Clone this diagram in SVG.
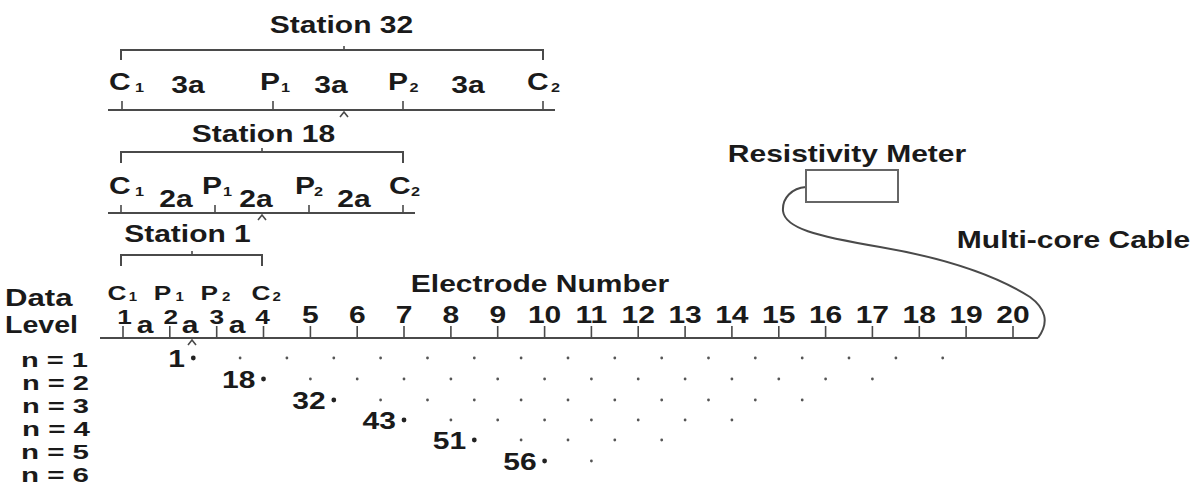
<svg xmlns="http://www.w3.org/2000/svg" width="1201" height="493" viewBox="0 0 1201 493">
<style>
text{font-family:"Liberation Sans",Arial,sans-serif;font-weight:bold;font-size:24px;fill:#1a1a1a}
.m{text-anchor:middle}
.e{text-anchor:end}
.sub{font-size:13px}
.cp{font-size:21px}
.cp .sub{font-size:12px}
.lv{font-size:20.5px}
.dl{font-size:23px}
.ln{stroke:#4a4a4a;stroke-width:2;fill:none}
.tk{stroke:#4a4a4a;stroke-width:1.6;fill:none}
.dot{fill:#555}
.big{fill:#222}
</style>
<rect width="1201" height="493" fill="#fff"/>
<g id="connectors">
<path class="ln" d="M121,60 V50 H543 V60"/><path class="tk" d="M344,46 V50"/>
<path class="ln" d="M108,110 H555"/>
<path class="tk" d="M122,101 V110 M273,101 V110 M403,101 V110 M543,101 V110"/>
<path class="tk" d="M340,117 L344,112 L348,117"/>
<path class="ln" d="M121,163 V152 H403 V163"/><path class="tk" d="M262,148 V152"/>
<path class="ln" d="M108,213 H415"/>
<path class="tk" d="M121,205 V213 M215,205 V213 M309,205 V213 M403,205 V213"/>
<path class="tk" d="M258,220 L262,215 L266,220"/>
<path class="ln" d="M121,266 V255 H262 V266"/><path class="tk" d="M192,251 V255"/>
<path class="ln" d="M100,338 H1038"/>
<path class="tk" d="M123,326V338M169.8,326V338M216.7,326V338M263.5,326V338M310.4,326V338M357.2,326V338M404,326V338M450.9,326V338M497.7,326V338M544.6,326V338M591.4,326V338M638.2,326V338M685.1,326V338M731.9,326V338M778.8,326V338M825.6,326V338M872.4,326V338M919.3,326V338M966.1,326V338M1013,326V338"/>
<path class="tk" d="M188,345 L192,340 L196,345"/>
<path id="cable" class="ln" stroke-width="1.6" d="M806,187 C792,188 782,198 783,211 C785,228 815,236 880,247 C950,259 1000,278 1030,297 C1045,308 1050,322 1038,338"/>
</g>
<g id="meter"><rect x="806" y="170" width="92" height="32" fill="#fff" stroke="#666" stroke-width="2"/></g>
<g id="data-points">
<g class="dot">
<circle cx="240.1" cy="358" r="1.4"/><circle cx="286.9" cy="358" r="1.4"/><circle cx="333.8" cy="358" r="1.4"/><circle cx="380.6" cy="358" r="1.4"/><circle cx="427.5" cy="358" r="1.4"/><circle cx="474.3" cy="358" r="1.4"/><circle cx="521.1" cy="358" r="1.4"/><circle cx="568" cy="358" r="1.4"/><circle cx="614.8" cy="358" r="1.4"/><circle cx="661.7" cy="358" r="1.4"/><circle cx="708.5" cy="358" r="1.4"/><circle cx="755.3" cy="358" r="1.4"/><circle cx="802.2" cy="358" r="1.4"/><circle cx="849" cy="358" r="1.4"/><circle cx="895.9" cy="358" r="1.4"/><circle cx="942.7" cy="358" r="1.4"/>
<circle cx="310.4" cy="379" r="1.4"/><circle cx="357.2" cy="379" r="1.4"/><circle cx="404" cy="379" r="1.4"/><circle cx="450.9" cy="379" r="1.4"/><circle cx="497.7" cy="379" r="1.4"/><circle cx="544.6" cy="379" r="1.4"/><circle cx="591.4" cy="379" r="1.4"/><circle cx="638.2" cy="379" r="1.4"/><circle cx="685.1" cy="379" r="1.4"/><circle cx="731.9" cy="379" r="1.4"/><circle cx="778.8" cy="379" r="1.4"/><circle cx="825.6" cy="379" r="1.4"/><circle cx="872.4" cy="379" r="1.4"/>
<circle cx="380.6" cy="400" r="1.4"/><circle cx="427.5" cy="400" r="1.4"/><circle cx="474.3" cy="400" r="1.4"/><circle cx="521.1" cy="400" r="1.4"/><circle cx="568" cy="400" r="1.4"/><circle cx="614.8" cy="400" r="1.4"/><circle cx="661.7" cy="400" r="1.4"/><circle cx="708.5" cy="400" r="1.4"/><circle cx="755.3" cy="400" r="1.4"/><circle cx="802.2" cy="400" r="1.4"/>
<circle cx="450.9" cy="420" r="1.4"/><circle cx="497.7" cy="420" r="1.4"/><circle cx="544.6" cy="420" r="1.4"/><circle cx="591.4" cy="420" r="1.4"/><circle cx="638.2" cy="420" r="1.4"/><circle cx="685.1" cy="420" r="1.4"/><circle cx="731.9" cy="420" r="1.4"/>
<circle cx="521.1" cy="440" r="1.4"/><circle cx="568" cy="440" r="1.4"/><circle cx="614.8" cy="440" r="1.4"/><circle cx="661.7" cy="440" r="1.4"/>
<circle cx="591.4" cy="461" r="1.4"/>
</g>
<g class="big">
<circle cx="193.3" cy="358" r="2.4"/><circle cx="263.5" cy="379" r="2.4"/><circle cx="333.8" cy="400" r="2.4"/><circle cx="404" cy="420" r="2.4"/><circle cx="474.3" cy="440" r="2.4"/><circle cx="544.6" cy="461" r="2.4"/>
</g>
</g>
<g id="labels" transform="scale(1.25 1)">
<g id="station32">
<text class="m" x="273.2" y="33">Station 32</text>
<text x="87.2" y="90">C<tspan class="sub" x="108" y="92">1</tspan></text>
<text class="m" x="150.4" y="93">3a</text>
<text x="208" y="90">P<tspan class="sub" x="224.8" y="92">1</tspan></text>
<text class="m" x="264.8" y="93">3a</text>
<text x="310.4" y="90">P<tspan class="sub" x="327.6" y="92">2</tspan></text>
<text class="m" x="374.4" y="93">3a</text>
<text x="421.6" y="90">C<tspan class="sub" x="440.8" y="92">2</tspan></text>
</g>
<g id="station18">
<text class="m" x="210.8" y="142">Station 18</text>
<text x="87.2" y="194">C<tspan class="sub" x="108" y="196">1</tspan></text>
<text class="m" x="140.8" y="207">2a</text>
<text x="161.6" y="194">P<tspan class="sub" x="178.4" y="196">1</tspan></text>
<text class="m" x="204.8" y="207">2a</text>
<text x="236" y="194">P<tspan class="sub" x="251.2" y="196">2</tspan></text>
<text class="m" x="283.2" y="207">2a</text>
<text x="311.2" y="194">C<tspan class="sub" x="328.8" y="196">2</tspan></text>
</g>
<g id="station1">
<text class="m" x="150" y="242">Station 1</text>
</g>
<g id="axis-labels">
<text class="dl" x="4" y="306" textLength="54" lengthAdjust="spacingAndGlyphs">Data</text>
<text class="dl" x="4" y="333" textLength="58.4" lengthAdjust="spacingAndGlyphs">Level</text>
<text class="cp" x="86" y="300">C<tspan class="sub" x="103" y="301">1</tspan></text>
<text class="cp" x="123" y="300">P<tspan class="sub" x="140.4" y="301">1</tspan></text>
<text class="cp" x="160.4" y="300">P<tspan class="sub" x="177.6" y="301">2</tspan></text>
<text class="cp" x="201.2" y="300">C<tspan class="sub" x="218" y="301">2</tspan></text>
<text class="m" x="116" y="333">a</text>
<text class="m" x="152" y="333">a</text>
<text class="m" x="189.6" y="333">a</text>
<text class="m" x="432" y="292">Electrode Number</text>
<text class="m cp" x="99.6" y="324">1</text>
<text class="m cp" x="136.6" y="324">2</text>
<text class="m cp" x="173.4" y="324">3</text>
<text class="m cp" x="210" y="324">4</text>
<text class="m" x="248.3" y="323">5</text>
<text class="m" x="285.8" y="323">6</text>
<text class="m" x="323.2" y="323">7</text>
<text class="m" x="360.7" y="323">8</text>
<text class="m" x="398.2" y="323">9</text>
<text class="m" x="435.7" y="323">10</text>
<text class="m" x="473.1" y="323">11</text>
<text class="m" x="510.6" y="323">12</text>
<text class="m" x="548.1" y="323">13</text>
<text class="m" x="585.5" y="323">14</text>
<text class="m" x="623" y="323">15</text>
<text class="m" x="660.5" y="323">16</text>
<text class="m" x="697.9" y="323">17</text>
<text class="m" x="735.4" y="323">18</text>
<text class="m" x="772.9" y="323">19</text>
<text class="m" x="810.4" y="323">20</text>
</g>
<g id="level-labels" class="lv">
<text class="lv" x="16.8" y="367" textLength="53.6" lengthAdjust="spacingAndGlyphs">n = 1</text>
<text class="lv" x="17.6" y="390" textLength="53.6" lengthAdjust="spacingAndGlyphs">n = 2</text>
<text class="lv" x="17.6" y="413" textLength="53.6" lengthAdjust="spacingAndGlyphs">n = 3</text>
<text class="lv" x="17.6" y="436" textLength="54.4" lengthAdjust="spacingAndGlyphs">n = 4</text>
<text class="lv" x="16.8" y="459" textLength="54.4" lengthAdjust="spacingAndGlyphs">n = 5</text>
<text class="lv" x="16.8" y="482" textLength="54.4" lengthAdjust="spacingAndGlyphs">n = 6</text>
</g>
<g id="point-labels">
<text class="e" x="148" y="367">1</text>
<text class="e" x="204.4" y="388">18</text>
<text class="e" x="260.6" y="409">32</text>
<text class="e" x="316.8" y="429">43</text>
<text class="e" x="373" y="449">51</text>
<text class="e" x="429.3" y="470">56</text>
</g>
<g id="meter-labels">
<text class="m" x="677.6" y="162">Resistivity Meter</text>
<text class="m" x="858.8" y="248">Multi-core Cable</text>
</g>
</g>
</svg>
